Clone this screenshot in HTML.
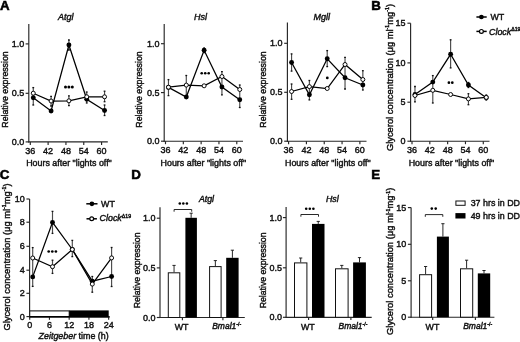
<!DOCTYPE html><html><head><meta charset="utf-8"><style>html,body{margin:0;padding:0;background:#fff;overflow:hidden;}svg{display:block;}#w{will-change:transform;width:520px;height:342px;}text{font-family:"Liberation Sans",sans-serif;fill:#111;stroke:#111;stroke-width:0.42px;}</style></head><body>
<div id="w"><svg width="520" height="342" viewBox="0 0 520 342">
<rect width="520" height="342" fill="#fff"/>
<text x="0.1" y="9.6" font-size="13.3" font-weight="bold" style="fill:#000;stroke:#000;stroke-width:0.55px">A</text>
<text x="371.3" y="9.7" font-size="13.3" font-weight="bold" style="fill:#000;stroke:#000;stroke-width:0.55px">B</text>
<text x="-0.3" y="179.2" font-size="13.3" font-weight="bold" style="fill:#000;stroke:#000;stroke-width:0.55px">C</text>
<text x="131.2" y="179.1" font-size="13.3" font-weight="bold" style="fill:#000;stroke:#000;stroke-width:0.55px">D</text>
<text x="371.2" y="179.1" font-size="13.3" font-weight="bold" style="fill:#000;stroke:#000;stroke-width:0.55px">E</text>
<line x1="28.8" y1="24" x2="28.8" y2="142.4" stroke="#262626" stroke-width="1.15"/>
<line x1="28.3" y1="141.9" x2="107.8" y2="141.9" stroke="#262626" stroke-width="1.15"/>
<line x1="25.6" y1="141.9" x2="28.8" y2="141.9" stroke="#262626" stroke-width="1.15"/>
<text x="24.2" y="145" font-size="9.0" text-anchor="end" style="" >0.0</text>
<line x1="25.6" y1="93.3" x2="28.8" y2="93.3" stroke="#262626" stroke-width="1.15"/>
<text x="24.2" y="96.4" font-size="9.0" text-anchor="end" style="" >0.5</text>
<line x1="25.6" y1="43.9" x2="28.8" y2="43.9" stroke="#262626" stroke-width="1.15"/>
<text x="24.2" y="47" font-size="9.0" text-anchor="end" style="" >1.0</text>
<line x1="30.3" y1="141.9" x2="30.3" y2="144.9" stroke="#262626" stroke-width="1.15"/>
<text x="30.3" y="153.5" font-size="9.0" text-anchor="middle" style="" >36</text>
<line x1="48.12" y1="141.9" x2="48.12" y2="144.9" stroke="#262626" stroke-width="1.15"/>
<text x="48.12" y="153.5" font-size="9.0" text-anchor="middle" style="" >42</text>
<line x1="65.94" y1="141.9" x2="65.94" y2="144.9" stroke="#262626" stroke-width="1.15"/>
<text x="65.94" y="153.5" font-size="9.0" text-anchor="middle" style="" >48</text>
<line x1="83.76" y1="141.9" x2="83.76" y2="144.9" stroke="#262626" stroke-width="1.15"/>
<text x="83.76" y="153.5" font-size="9.0" text-anchor="middle" style="" >54</text>
<line x1="101.58" y1="141.9" x2="101.58" y2="144.9" stroke="#262626" stroke-width="1.15"/>
<text x="101.58" y="153.5" font-size="9.0" text-anchor="middle" style="" >60</text>
<text x="65.8" y="20.4" font-size="9" text-anchor="middle" style="font-style:italic;" >Atgl</text>
<text x="26.2" y="165.6" font-size="8.9">Hours after "lights off"</text>
<text x="0" y="0" font-size="8.9" text-anchor="middle" textLength="76.3" lengthAdjust="spacingAndGlyphs" transform="translate(7.9,89.5) rotate(-90)">Relative expression</text>
<line x1="33.27" y1="87.6" x2="33.27" y2="105" stroke="#4a4a4a" stroke-width="1.15"/>
<line x1="32.37" y1="87.6" x2="34.17" y2="87.6" stroke="#111" stroke-width="1.3"/>
<line x1="32.37" y1="105" x2="34.17" y2="105" stroke="#111" stroke-width="1.3"/>
<line x1="51.09" y1="96.4" x2="51.09" y2="106" stroke="#4a4a4a" stroke-width="1.15"/>
<line x1="50.19" y1="96.4" x2="51.99" y2="96.4" stroke="#111" stroke-width="1.3"/>
<line x1="50.19" y1="106" x2="51.99" y2="106" stroke="#111" stroke-width="1.3"/>
<line x1="68.91" y1="40" x2="68.91" y2="50" stroke="#4a4a4a" stroke-width="1.15"/>
<line x1="68.01" y1="40" x2="69.81" y2="40" stroke="#111" stroke-width="1.3"/>
<line x1="68.01" y1="50" x2="69.81" y2="50" stroke="#111" stroke-width="1.3"/>
<line x1="68.91" y1="95.8" x2="68.91" y2="105.7" stroke="#4a4a4a" stroke-width="1.15"/>
<line x1="68.01" y1="95.8" x2="69.81" y2="95.8" stroke="#111" stroke-width="1.3"/>
<line x1="68.01" y1="105.7" x2="69.81" y2="105.7" stroke="#111" stroke-width="1.3"/>
<line x1="86.73" y1="92" x2="86.73" y2="103" stroke="#4a4a4a" stroke-width="1.15"/>
<line x1="85.83" y1="92" x2="87.63" y2="92" stroke="#111" stroke-width="1.3"/>
<line x1="85.83" y1="103" x2="87.63" y2="103" stroke="#111" stroke-width="1.3"/>
<line x1="104.55" y1="91.2" x2="104.55" y2="101.7" stroke="#4a4a4a" stroke-width="1.15"/>
<line x1="103.65" y1="91.2" x2="105.45" y2="91.2" stroke="#111" stroke-width="1.3"/>
<line x1="103.65" y1="101.7" x2="105.45" y2="101.7" stroke="#111" stroke-width="1.3"/>
<line x1="104.55" y1="105" x2="104.55" y2="115.5" stroke="#4a4a4a" stroke-width="1.15"/>
<line x1="103.65" y1="105" x2="105.45" y2="105" stroke="#111" stroke-width="1.3"/>
<line x1="103.65" y1="115.5" x2="105.45" y2="115.5" stroke="#111" stroke-width="1.3"/>
<polyline points="33.27,97.8 51.09,111 68.91,45 86.73,99.3 104.55,110.5" fill="none" stroke="#000" stroke-width="1.25" stroke-linejoin="miter"/>
<polyline points="33.27,93.2 51.09,101 68.91,100.8 86.73,96.8 104.55,96.8" fill="none" stroke="#000" stroke-width="1.25" stroke-linejoin="miter"/>
<circle cx="33.27" cy="97.8" r="2.45" fill="#000"/>
<circle cx="51.09" cy="111" r="2.45" fill="#000"/>
<circle cx="68.91" cy="45" r="2.45" fill="#000"/>
<circle cx="86.73" cy="99.3" r="2.45" fill="#000"/>
<circle cx="104.55" cy="110.5" r="2.45" fill="#000"/>
<circle cx="33.27" cy="93.2" r="2.0" fill="#fff" stroke="#000" stroke-width="0.95"/>
<circle cx="51.09" cy="101" r="2.0" fill="#fff" stroke="#000" stroke-width="0.95"/>
<circle cx="68.91" cy="100.8" r="2.0" fill="#fff" stroke="#000" stroke-width="0.95"/>
<circle cx="86.73" cy="96.8" r="2.0" fill="#fff" stroke="#000" stroke-width="0.95"/>
<circle cx="104.55" cy="96.8" r="2.0" fill="#fff" stroke="#000" stroke-width="0.95"/>
<circle cx="65.5" cy="87" r="1.5" fill="#000"/>
<circle cx="68.9" cy="87" r="1.5" fill="#000"/>
<circle cx="72.3" cy="87" r="1.5" fill="#000"/>
<line x1="164.2" y1="24.1" x2="164.2" y2="141.7" stroke="#262626" stroke-width="1.15"/>
<line x1="163.7" y1="141.2" x2="243" y2="141.2" stroke="#262626" stroke-width="1.15"/>
<line x1="161" y1="141.2" x2="164.2" y2="141.2" stroke="#262626" stroke-width="1.15"/>
<text x="159.4" y="144.3" font-size="9.0" text-anchor="end" style="" >0.0</text>
<line x1="161" y1="92.6" x2="164.2" y2="92.6" stroke="#262626" stroke-width="1.15"/>
<text x="159.4" y="95.7" font-size="9.0" text-anchor="end" style="" >0.5</text>
<line x1="161" y1="43.7" x2="164.2" y2="43.7" stroke="#262626" stroke-width="1.15"/>
<text x="159.4" y="46.8" font-size="9.0" text-anchor="end" style="" >1.0</text>
<line x1="165.5" y1="141.2" x2="165.5" y2="144.2" stroke="#262626" stroke-width="1.15"/>
<text x="165.5" y="152.8" font-size="9.0" text-anchor="middle" style="" >36</text>
<line x1="183.32" y1="141.2" x2="183.32" y2="144.2" stroke="#262626" stroke-width="1.15"/>
<text x="183.32" y="152.8" font-size="9.0" text-anchor="middle" style="" >42</text>
<line x1="201.14" y1="141.2" x2="201.14" y2="144.2" stroke="#262626" stroke-width="1.15"/>
<text x="201.14" y="152.8" font-size="9.0" text-anchor="middle" style="" >48</text>
<line x1="218.96" y1="141.2" x2="218.96" y2="144.2" stroke="#262626" stroke-width="1.15"/>
<text x="218.96" y="152.8" font-size="9.0" text-anchor="middle" style="" >54</text>
<line x1="236.78" y1="141.2" x2="236.78" y2="144.2" stroke="#262626" stroke-width="1.15"/>
<text x="236.78" y="152.8" font-size="9.0" text-anchor="middle" style="" >60</text>
<text x="200.5" y="20.4" font-size="9" text-anchor="middle" style="font-style:italic;" >Hsl</text>
<text x="160.6" y="165.6" font-size="8.9">Hours after "lights off"</text>
<text x="0" y="0" font-size="8.9" text-anchor="middle" textLength="76.3" lengthAdjust="spacingAndGlyphs" transform="translate(142.2,89.5) rotate(-90)">Relative expression</text>
<line x1="168.47" y1="79.6" x2="168.47" y2="95.6" stroke="#4a4a4a" stroke-width="1.15"/>
<line x1="167.57" y1="79.6" x2="169.37" y2="79.6" stroke="#111" stroke-width="1.3"/>
<line x1="167.57" y1="95.6" x2="169.37" y2="95.6" stroke="#111" stroke-width="1.3"/>
<line x1="186.29" y1="75.5" x2="186.29" y2="96" stroke="#4a4a4a" stroke-width="1.15"/>
<line x1="185.39" y1="75.5" x2="187.19" y2="75.5" stroke="#111" stroke-width="1.3"/>
<line x1="185.39" y1="96" x2="187.19" y2="96" stroke="#111" stroke-width="1.3"/>
<line x1="204.11" y1="48" x2="204.11" y2="52.6" stroke="#4a4a4a" stroke-width="1.15"/>
<line x1="203.21" y1="48" x2="205.01" y2="48" stroke="#111" stroke-width="1.3"/>
<line x1="203.21" y1="52.6" x2="205.01" y2="52.6" stroke="#111" stroke-width="1.3"/>
<line x1="221.93" y1="71.7" x2="221.93" y2="94.8" stroke="#4a4a4a" stroke-width="1.15"/>
<line x1="221.03" y1="71.7" x2="222.83" y2="71.7" stroke="#111" stroke-width="1.3"/>
<line x1="221.03" y1="94.8" x2="222.83" y2="94.8" stroke="#111" stroke-width="1.3"/>
<line x1="239.75" y1="85" x2="239.75" y2="107.5" stroke="#4a4a4a" stroke-width="1.15"/>
<line x1="238.85" y1="85" x2="240.65" y2="85" stroke="#111" stroke-width="1.3"/>
<line x1="238.85" y1="107.5" x2="240.65" y2="107.5" stroke="#111" stroke-width="1.3"/>
<polyline points="168.47,87.4 186.29,97 204.11,50.3 221.93,87 239.75,99.8" fill="none" stroke="#000" stroke-width="1.25" stroke-linejoin="miter"/>
<polyline points="168.47,87.2 186.29,85.1 204.11,85.8 221.93,76.5 239.75,89.5" fill="none" stroke="#000" stroke-width="1.25" stroke-linejoin="miter"/>
<circle cx="168.47" cy="87.4" r="2.45" fill="#000"/>
<circle cx="186.29" cy="97" r="2.45" fill="#000"/>
<circle cx="204.11" cy="50.3" r="2.45" fill="#000"/>
<circle cx="221.93" cy="87" r="2.45" fill="#000"/>
<circle cx="239.75" cy="99.8" r="2.45" fill="#000"/>
<circle cx="168.47" cy="87.2" r="2.0" fill="#fff" stroke="#000" stroke-width="0.95"/>
<circle cx="186.29" cy="85.1" r="2.0" fill="#fff" stroke="#000" stroke-width="0.95"/>
<circle cx="204.11" cy="85.8" r="2.0" fill="#fff" stroke="#000" stroke-width="0.95"/>
<circle cx="221.93" cy="76.5" r="2.0" fill="#fff" stroke="#000" stroke-width="0.95"/>
<circle cx="239.75" cy="89.5" r="2.0" fill="#fff" stroke="#000" stroke-width="0.95"/>
<circle cx="201.7" cy="73.2" r="1.3" fill="#000"/>
<circle cx="205.2" cy="73.2" r="1.3" fill="#000"/>
<circle cx="208.7" cy="73.2" r="1.3" fill="#000"/>
<line x1="287.4" y1="22.6" x2="287.4" y2="141.7" stroke="#262626" stroke-width="1.15"/>
<line x1="286.9" y1="141.2" x2="366.5" y2="141.2" stroke="#262626" stroke-width="1.15"/>
<line x1="284.2" y1="141.2" x2="287.4" y2="141.2" stroke="#262626" stroke-width="1.15"/>
<text x="282.6" y="144.3" font-size="9.0" text-anchor="end" style="" >0.0</text>
<line x1="284.2" y1="92.3" x2="287.4" y2="92.3" stroke="#262626" stroke-width="1.15"/>
<text x="282.6" y="95.4" font-size="9.0" text-anchor="end" style="" >0.5</text>
<line x1="284.2" y1="43.3" x2="287.4" y2="43.3" stroke="#262626" stroke-width="1.15"/>
<text x="282.6" y="46.4" font-size="9.0" text-anchor="end" style="" >1.0</text>
<line x1="288.6" y1="141.2" x2="288.6" y2="144.2" stroke="#262626" stroke-width="1.15"/>
<text x="288.6" y="152.8" font-size="9.0" text-anchor="middle" style="" >36</text>
<line x1="306.42" y1="141.2" x2="306.42" y2="144.2" stroke="#262626" stroke-width="1.15"/>
<text x="306.42" y="152.8" font-size="9.0" text-anchor="middle" style="" >42</text>
<line x1="324.24" y1="141.2" x2="324.24" y2="144.2" stroke="#262626" stroke-width="1.15"/>
<text x="324.24" y="152.8" font-size="9.0" text-anchor="middle" style="" >48</text>
<line x1="342.06" y1="141.2" x2="342.06" y2="144.2" stroke="#262626" stroke-width="1.15"/>
<text x="342.06" y="152.8" font-size="9.0" text-anchor="middle" style="" >54</text>
<line x1="359.88" y1="141.2" x2="359.88" y2="144.2" stroke="#262626" stroke-width="1.15"/>
<text x="359.88" y="152.8" font-size="9.0" text-anchor="middle" style="" >60</text>
<text x="321.8" y="20.4" font-size="9" text-anchor="middle" style="font-style:italic;" >Mgll</text>
<text x="285" y="165.6" font-size="8.9">Hours after "lights off"</text>
<text x="0" y="0" font-size="8.9" text-anchor="middle" textLength="76.3" lengthAdjust="spacingAndGlyphs" transform="translate(266.4,89.5) rotate(-90)">Relative expression</text>
<line x1="291.57" y1="53.9" x2="291.57" y2="71.1" stroke="#4a4a4a" stroke-width="1.15"/>
<line x1="290.67" y1="53.9" x2="292.47" y2="53.9" stroke="#111" stroke-width="1.3"/>
<line x1="290.67" y1="71.1" x2="292.47" y2="71.1" stroke="#111" stroke-width="1.3"/>
<line x1="291.57" y1="84" x2="291.57" y2="99.3" stroke="#4a4a4a" stroke-width="1.15"/>
<line x1="290.67" y1="84" x2="292.47" y2="84" stroke="#111" stroke-width="1.3"/>
<line x1="290.67" y1="99.3" x2="292.47" y2="99.3" stroke="#111" stroke-width="1.3"/>
<line x1="309.39" y1="80.5" x2="309.39" y2="99.9" stroke="#4a4a4a" stroke-width="1.15"/>
<line x1="308.49" y1="80.5" x2="310.29" y2="80.5" stroke="#111" stroke-width="1.3"/>
<line x1="308.49" y1="99.9" x2="310.29" y2="99.9" stroke="#111" stroke-width="1.3"/>
<line x1="327.21" y1="50.6" x2="327.21" y2="66.6" stroke="#4a4a4a" stroke-width="1.15"/>
<line x1="326.31" y1="50.6" x2="328.11" y2="50.6" stroke="#111" stroke-width="1.3"/>
<line x1="326.31" y1="66.6" x2="328.11" y2="66.6" stroke="#111" stroke-width="1.3"/>
<line x1="345.03" y1="57.4" x2="345.03" y2="89" stroke="#4a4a4a" stroke-width="1.15"/>
<line x1="344.13" y1="57.4" x2="345.93" y2="57.4" stroke="#111" stroke-width="1.3"/>
<line x1="344.13" y1="89" x2="345.93" y2="89" stroke="#111" stroke-width="1.3"/>
<line x1="362.85" y1="70.7" x2="362.85" y2="90" stroke="#4a4a4a" stroke-width="1.15"/>
<line x1="361.95" y1="70.7" x2="363.75" y2="70.7" stroke="#111" stroke-width="1.3"/>
<line x1="361.95" y1="90" x2="363.75" y2="90" stroke="#111" stroke-width="1.3"/>
<polyline points="291.57,62.5 309.39,94.8 327.21,58.8 345.03,77.8 362.85,85" fill="none" stroke="#000" stroke-width="1.25" stroke-linejoin="miter"/>
<polyline points="291.57,91.5 309.39,86.6 327.21,88.5 345.03,64.5 362.85,79.5" fill="none" stroke="#000" stroke-width="1.25" stroke-linejoin="miter"/>
<circle cx="291.57" cy="62.5" r="2.45" fill="#000"/>
<circle cx="309.39" cy="94.8" r="2.45" fill="#000"/>
<circle cx="327.21" cy="58.8" r="2.45" fill="#000"/>
<circle cx="345.03" cy="77.8" r="2.45" fill="#000"/>
<circle cx="362.85" cy="85" r="2.45" fill="#000"/>
<circle cx="291.57" cy="91.5" r="2.0" fill="#fff" stroke="#000" stroke-width="0.95"/>
<circle cx="309.39" cy="86.6" r="2.0" fill="#fff" stroke="#000" stroke-width="0.95"/>
<circle cx="327.21" cy="88.5" r="2.0" fill="#fff" stroke="#000" stroke-width="0.95"/>
<circle cx="345.03" cy="64.5" r="2.0" fill="#fff" stroke="#000" stroke-width="0.95"/>
<circle cx="362.85" cy="79.5" r="2.0" fill="#fff" stroke="#000" stroke-width="0.95"/>
<circle cx="327.3" cy="77.9" r="1.4" fill="#000"/>
<line x1="410.6" y1="23.2" x2="410.6" y2="141.7" stroke="#262626" stroke-width="1.15"/>
<line x1="410.1" y1="141.2" x2="489.5" y2="141.2" stroke="#262626" stroke-width="1.15"/>
<line x1="407.4" y1="141.2" x2="410.6" y2="141.2" stroke="#262626" stroke-width="1.15"/>
<text x="405.6" y="144.3" font-size="9.0" text-anchor="end" style="" >0</text>
<line x1="407.4" y1="102.2" x2="410.6" y2="102.2" stroke="#262626" stroke-width="1.15"/>
<text x="405.6" y="105.3" font-size="9.0" text-anchor="end" style="" >5</text>
<line x1="407.4" y1="62.9" x2="410.6" y2="62.9" stroke="#262626" stroke-width="1.15"/>
<text x="405.6" y="66" font-size="9.0" text-anchor="end" style="" >10</text>
<line x1="407.4" y1="23.2" x2="410.6" y2="23.2" stroke="#262626" stroke-width="1.15"/>
<text x="405.6" y="26.3" font-size="9.0" text-anchor="end" style="" >15</text>
<line x1="412" y1="141.2" x2="412" y2="144.2" stroke="#262626" stroke-width="1.15"/>
<text x="412" y="152.8" font-size="9.0" text-anchor="middle" style="" >36</text>
<line x1="429.82" y1="141.2" x2="429.82" y2="144.2" stroke="#262626" stroke-width="1.15"/>
<text x="429.82" y="152.8" font-size="9.0" text-anchor="middle" style="" >42</text>
<line x1="447.64" y1="141.2" x2="447.64" y2="144.2" stroke="#262626" stroke-width="1.15"/>
<text x="447.64" y="152.8" font-size="9.0" text-anchor="middle" style="" >48</text>
<line x1="465.46" y1="141.2" x2="465.46" y2="144.2" stroke="#262626" stroke-width="1.15"/>
<text x="465.46" y="152.8" font-size="9.0" text-anchor="middle" style="" >54</text>
<line x1="483.28" y1="141.2" x2="483.28" y2="144.2" stroke="#262626" stroke-width="1.15"/>
<text x="483.28" y="152.8" font-size="9.0" text-anchor="middle" style="" >60</text>
<text x="408.7" y="165.6" font-size="8.9">Hours after "lights off"</text>
<text x="0" y="0" font-size="9.2" text-anchor="middle" textLength="147.2" lengthAdjust="spacingAndGlyphs" transform="translate(392.6,77.5) rotate(-90)">Glycerol concentration (μg ml<tspan font-size="5.2" dy="-3.4">-1</tspan><tspan dy="3.4">mg</tspan><tspan font-size="5.2" dy="-3.4">-1</tspan><tspan dy="3.4">)</tspan></text>
<line x1="414.97" y1="86.5" x2="414.97" y2="101.9" stroke="#4a4a4a" stroke-width="1.15"/>
<line x1="414.07" y1="86.5" x2="415.87" y2="86.5" stroke="#111" stroke-width="1.3"/>
<line x1="414.07" y1="101.9" x2="415.87" y2="101.9" stroke="#111" stroke-width="1.3"/>
<line x1="432.79" y1="75.6" x2="432.79" y2="103" stroke="#4a4a4a" stroke-width="1.15"/>
<line x1="431.89" y1="75.6" x2="433.69" y2="75.6" stroke="#111" stroke-width="1.3"/>
<line x1="431.89" y1="103" x2="433.69" y2="103" stroke="#111" stroke-width="1.3"/>
<line x1="450.61" y1="39.8" x2="450.61" y2="67.9" stroke="#4a4a4a" stroke-width="1.15"/>
<line x1="449.71" y1="39.8" x2="451.51" y2="39.8" stroke="#111" stroke-width="1.3"/>
<line x1="449.71" y1="67.9" x2="451.51" y2="67.9" stroke="#111" stroke-width="1.3"/>
<line x1="468.43" y1="82.5" x2="468.43" y2="87.5" stroke="#4a4a4a" stroke-width="1.15"/>
<line x1="467.53" y1="82.5" x2="469.33" y2="82.5" stroke="#111" stroke-width="1.3"/>
<line x1="467.53" y1="87.5" x2="469.33" y2="87.5" stroke="#111" stroke-width="1.3"/>
<line x1="468.43" y1="93.7" x2="468.43" y2="104.7" stroke="#4a4a4a" stroke-width="1.15"/>
<line x1="467.53" y1="93.7" x2="469.33" y2="93.7" stroke="#111" stroke-width="1.3"/>
<line x1="467.53" y1="104.7" x2="469.33" y2="104.7" stroke="#111" stroke-width="1.3"/>
<line x1="486.25" y1="95" x2="486.25" y2="100" stroke="#4a4a4a" stroke-width="1.15"/>
<line x1="485.35" y1="95" x2="487.15" y2="95" stroke="#111" stroke-width="1.3"/>
<line x1="485.35" y1="100" x2="487.15" y2="100" stroke="#111" stroke-width="1.3"/>
<polyline points="414.97,94.5 432.79,82.1 450.61,54.3 468.43,85 486.25,97.7" fill="none" stroke="#000" stroke-width="1.25" stroke-linejoin="miter"/>
<polyline points="414.97,95.5 432.79,90.3 450.61,94.5 468.43,98.9 486.25,97.4" fill="none" stroke="#000" stroke-width="1.25" stroke-linejoin="miter"/>
<circle cx="414.97" cy="94.5" r="2.45" fill="#000"/>
<circle cx="432.79" cy="82.1" r="2.45" fill="#000"/>
<circle cx="450.61" cy="54.3" r="2.45" fill="#000"/>
<circle cx="468.43" cy="85" r="2.45" fill="#000"/>
<circle cx="486.25" cy="97.7" r="2.45" fill="#000"/>
<circle cx="414.97" cy="95.5" r="2.0" fill="#fff" stroke="#000" stroke-width="0.95"/>
<circle cx="432.79" cy="90.3" r="2.0" fill="#fff" stroke="#000" stroke-width="0.95"/>
<circle cx="450.61" cy="94.5" r="2.0" fill="#fff" stroke="#000" stroke-width="0.95"/>
<circle cx="468.43" cy="98.9" r="2.0" fill="#fff" stroke="#000" stroke-width="0.95"/>
<circle cx="486.25" cy="97.4" r="2.0" fill="#fff" stroke="#000" stroke-width="0.95"/>
<circle cx="448.9" cy="82.7" r="1.35" fill="#000"/>
<circle cx="452.3" cy="82.7" r="1.35" fill="#000"/>
<line x1="476.4" y1="17" x2="486.7" y2="17" stroke="#000" stroke-width="1.5"/>
<circle cx="481.4" cy="17" r="2.35" fill="#000"/>
<text x="490.4" y="19.9" font-size="8.9" text-anchor="start" style="" >WT</text>
<line x1="476.4" y1="31.4" x2="486.7" y2="31.4" stroke="#000" stroke-width="1.5"/>
<circle cx="481.4" cy="31.4" r="1.9" fill="#fff" stroke="#000" stroke-width="1.2"/>
<text x="489" y="34.6" font-size="8.9"><tspan font-style="italic">Clock</tspan><tspan font-size="5.2" dy="-3.3">Δ19</tspan></text>
<rect x="29.6" y="310.9" width="39.6" height="5.7" fill="#fff" stroke="#000" stroke-width="1"/>
<rect x="69.2" y="310.4" width="39.5" height="6.6" fill="#000"/>
<line x1="29.6" y1="199" x2="29.6" y2="317.3" stroke="#262626" stroke-width="1.15"/>
<line x1="29.1" y1="316.8" x2="110" y2="316.8" stroke="#262626" stroke-width="1.15"/>
<line x1="26.4" y1="316.6" x2="29.6" y2="316.6" stroke="#262626" stroke-width="1.15"/>
<text x="24.8" y="319.7" font-size="9.0" text-anchor="end" style="" >0</text>
<line x1="26.4" y1="293.3" x2="29.6" y2="293.3" stroke="#262626" stroke-width="1.15"/>
<text x="24.8" y="296.4" font-size="9.0" text-anchor="end" style="" >2</text>
<line x1="26.4" y1="270.2" x2="29.6" y2="270.2" stroke="#262626" stroke-width="1.15"/>
<text x="24.8" y="273.3" font-size="9.0" text-anchor="end" style="" >4</text>
<line x1="26.4" y1="246.3" x2="29.6" y2="246.3" stroke="#262626" stroke-width="1.15"/>
<text x="24.8" y="249.4" font-size="9.0" text-anchor="end" style="" >6</text>
<line x1="26.4" y1="222.2" x2="29.6" y2="222.2" stroke="#262626" stroke-width="1.15"/>
<text x="24.8" y="225.3" font-size="9.0" text-anchor="end" style="" >8</text>
<line x1="26.4" y1="199" x2="29.6" y2="199" stroke="#262626" stroke-width="1.15"/>
<text x="24.8" y="202.1" font-size="9.0" text-anchor="end" style="" >10</text>
<line x1="29.7" y1="316.8" x2="29.7" y2="319.8" stroke="#262626" stroke-width="1.15"/>
<text x="29.7" y="328.4" font-size="9.0" text-anchor="middle" style="" >0</text>
<line x1="49.44" y1="316.8" x2="49.44" y2="319.8" stroke="#262626" stroke-width="1.15"/>
<text x="49.44" y="328.4" font-size="9.0" text-anchor="middle" style="" >6</text>
<line x1="69.18" y1="316.8" x2="69.18" y2="319.8" stroke="#262626" stroke-width="1.15"/>
<text x="69.18" y="328.4" font-size="9.0" text-anchor="middle" style="" >12</text>
<line x1="88.92" y1="316.8" x2="88.92" y2="319.8" stroke="#262626" stroke-width="1.15"/>
<text x="88.92" y="328.4" font-size="9.0" text-anchor="middle" style="" >18</text>
<line x1="108.66" y1="316.8" x2="108.66" y2="319.8" stroke="#262626" stroke-width="1.15"/>
<text x="108.66" y="328.4" font-size="9.0" text-anchor="middle" style="" >24</text>
<text x="38.6" y="339.4" font-size="8.9"><tspan font-style="italic">Zeitgeber</tspan> time (h)</text>
<text x="0" y="0" font-size="9.2" text-anchor="middle" textLength="147.2" lengthAdjust="spacingAndGlyphs" transform="translate(9.6,257) rotate(-90)">Glycerol concentration (μg ml<tspan font-size="5.2" dy="-3.4">-1</tspan><tspan dy="3.4">mg</tspan><tspan font-size="5.2" dy="-3.4">-1</tspan><tspan dy="3.4">)</tspan></text>
<line x1="32.7" y1="247.6" x2="32.7" y2="286.4" stroke="#4a4a4a" stroke-width="1.15"/>
<line x1="31.8" y1="247.6" x2="33.6" y2="247.6" stroke="#111" stroke-width="1.3"/>
<line x1="31.8" y1="286.4" x2="33.6" y2="286.4" stroke="#111" stroke-width="1.3"/>
<line x1="52.5" y1="211.4" x2="52.5" y2="233.4" stroke="#4a4a4a" stroke-width="1.15"/>
<line x1="51.6" y1="211.4" x2="53.4" y2="211.4" stroke="#111" stroke-width="1.3"/>
<line x1="51.6" y1="233.4" x2="53.4" y2="233.4" stroke="#111" stroke-width="1.3"/>
<line x1="52.5" y1="260.2" x2="52.5" y2="273.4" stroke="#4a4a4a" stroke-width="1.15"/>
<line x1="51.6" y1="260.2" x2="53.4" y2="260.2" stroke="#111" stroke-width="1.3"/>
<line x1="51.6" y1="273.4" x2="53.4" y2="273.4" stroke="#111" stroke-width="1.3"/>
<line x1="72.3" y1="240.4" x2="72.3" y2="256.6" stroke="#4a4a4a" stroke-width="1.15"/>
<line x1="71.4" y1="240.4" x2="73.2" y2="240.4" stroke="#111" stroke-width="1.3"/>
<line x1="71.4" y1="256.6" x2="73.2" y2="256.6" stroke="#111" stroke-width="1.3"/>
<line x1="92.3" y1="276.5" x2="92.3" y2="292.2" stroke="#4a4a4a" stroke-width="1.15"/>
<line x1="91.4" y1="276.5" x2="93.2" y2="276.5" stroke="#111" stroke-width="1.3"/>
<line x1="91.4" y1="292.2" x2="93.2" y2="292.2" stroke="#111" stroke-width="1.3"/>
<line x1="111.6" y1="247.5" x2="111.6" y2="286.5" stroke="#4a4a4a" stroke-width="1.15"/>
<line x1="110.7" y1="247.5" x2="112.5" y2="247.5" stroke="#111" stroke-width="1.3"/>
<line x1="110.7" y1="286.5" x2="112.5" y2="286.5" stroke="#111" stroke-width="1.3"/>
<polyline points="32.7,276.9 52.5,222.4 72.3,249.5 92.3,281.2 111.6,276.5" fill="none" stroke="#000" stroke-width="1.25" stroke-linejoin="miter"/>
<polyline points="32.7,258 52.5,266.7 72.3,249.5 92.3,284.1 111.6,257.9" fill="none" stroke="#000" stroke-width="1.25" stroke-linejoin="miter"/>
<circle cx="32.7" cy="276.9" r="2.45" fill="#000"/>
<circle cx="52.5" cy="222.4" r="2.45" fill="#000"/>
<circle cx="72.3" cy="249.5" r="2.45" fill="#000"/>
<circle cx="92.3" cy="281.2" r="2.45" fill="#000"/>
<circle cx="111.6" cy="276.5" r="2.45" fill="#000"/>
<circle cx="32.7" cy="258" r="2.0" fill="#fff" stroke="#000" stroke-width="0.95"/>
<circle cx="52.5" cy="266.7" r="2.0" fill="#fff" stroke="#000" stroke-width="0.95"/>
<circle cx="72.3" cy="249.5" r="2.0" fill="#fff" stroke="#000" stroke-width="0.95"/>
<circle cx="92.3" cy="284.1" r="2.0" fill="#fff" stroke="#000" stroke-width="0.95"/>
<circle cx="111.6" cy="257.9" r="2.0" fill="#fff" stroke="#000" stroke-width="0.95"/>
<circle cx="48.7" cy="251.5" r="1.35" fill="#000"/>
<circle cx="52.3" cy="251.5" r="1.35" fill="#000"/>
<circle cx="55.9" cy="251.5" r="1.35" fill="#000"/>
<line x1="29.6" y1="316.8" x2="108.7" y2="316.8" stroke="#000" stroke-width="1.6"/>
<line x1="86.3" y1="203.8" x2="97.5" y2="203.8" stroke="#000" stroke-width="1.5"/>
<circle cx="91.9" cy="203.8" r="2.35" fill="#000"/>
<text x="101.1" y="206.9" font-size="8.9" text-anchor="start" style="" >WT</text>
<line x1="86.5" y1="218.8" x2="96.9" y2="218.8" stroke="#000" stroke-width="1.5"/>
<circle cx="91.7" cy="218.8" r="1.9" fill="#fff" stroke="#000" stroke-width="1.2"/>
<text x="99.6" y="221.2" font-size="8.9"><tspan font-style="italic">Clock</tspan><tspan font-size="5.2" dy="-3.3">Δ19</tspan></text>
<line x1="160" y1="207.3" x2="160" y2="318" stroke="#262626" stroke-width="1.15"/>
<line x1="159.5" y1="317.5" x2="244.8" y2="317.5" stroke="#262626" stroke-width="1.15"/>
<line x1="156.8" y1="317.5" x2="160" y2="317.5" stroke="#262626" stroke-width="1.15"/>
<text x="155.6" y="320.6" font-size="9.0" text-anchor="end" style="" >0.0</text>
<line x1="156.8" y1="267.9" x2="160" y2="267.9" stroke="#262626" stroke-width="1.15"/>
<text x="155.6" y="271" font-size="9.0" text-anchor="end" style="" >0.5</text>
<line x1="156.8" y1="218.2" x2="160" y2="218.2" stroke="#262626" stroke-width="1.15"/>
<text x="155.6" y="221.3" font-size="9.0" text-anchor="end" style="" >1.0</text>
<line x1="182.4" y1="317.5" x2="182.4" y2="320.3" stroke="#262626" stroke-width="1.15"/>
<line x1="222.9" y1="317.5" x2="222.9" y2="320.3" stroke="#262626" stroke-width="1.15"/>
<line x1="174.05" y1="272.3" x2="174.05" y2="265.4" stroke="#111" stroke-width="0.9"/>
<line x1="172.45" y1="265.4" x2="175.65" y2="265.4" stroke="#111" stroke-width="0.9"/>
<rect x="168.3" y="272.8" width="11.5" height="44.7" fill="#fff" stroke="#111" stroke-width="1"/>
<line x1="191.15" y1="217.8" x2="191.15" y2="213.2" stroke="#111" stroke-width="0.9"/>
<line x1="189.55" y1="213.2" x2="192.75" y2="213.2" stroke="#111" stroke-width="0.9"/>
<rect x="185.4" y="217.8" width="11.5" height="99.7" fill="#000"/>
<line x1="215.35" y1="266.1" x2="215.35" y2="260.6" stroke="#111" stroke-width="0.9"/>
<line x1="213.75" y1="260.6" x2="216.95" y2="260.6" stroke="#111" stroke-width="0.9"/>
<rect x="209.6" y="266.6" width="11.5" height="50.9" fill="#fff" stroke="#111" stroke-width="1"/>
<line x1="232.4" y1="257.8" x2="232.4" y2="250.2" stroke="#111" stroke-width="0.9"/>
<line x1="230.8" y1="250.2" x2="234" y2="250.2" stroke="#111" stroke-width="0.9"/>
<rect x="226.2" y="257.8" width="12.4" height="59.7" fill="#000"/>
<polyline points="174.1,211.7 174.1,209.5 191.7,209.5 191.7,211.7" fill="none" stroke="#111" stroke-width="0.9"/>
<circle cx="179.8" cy="203.5" r="1.3" fill="#000"/>
<circle cx="183.3" cy="203.5" r="1.3" fill="#000"/>
<circle cx="186.9" cy="203.5" r="1.3" fill="#000"/>
<text x="206.5" y="201.9" font-size="8.8" text-anchor="middle" style="font-style:italic;" >Atgl</text>
<text x="181.6" y="329.8" font-size="8.9" text-anchor="middle" style="" >WT</text>
<text x="212.2" y="329.2" font-size="8.5"><tspan font-style="italic">Bmal1</tspan><tspan font-size="5.2" dy="-3.2">-/-</tspan></text>
<text x="0" y="0" font-size="8.9" text-anchor="middle" textLength="75.8" lengthAdjust="spacingAndGlyphs" transform="translate(140.3,270.4) rotate(-90)">Relative expression</text>
<line x1="286.1" y1="207" x2="286.1" y2="317.8" stroke="#262626" stroke-width="1.15"/>
<line x1="285.6" y1="317.3" x2="371.7" y2="317.3" stroke="#262626" stroke-width="1.15"/>
<line x1="282.9" y1="317.3" x2="286.1" y2="317.3" stroke="#262626" stroke-width="1.15"/>
<text x="282" y="320.4" font-size="9.0" text-anchor="end" style="" >0.0</text>
<line x1="282.9" y1="267.8" x2="286.1" y2="267.8" stroke="#262626" stroke-width="1.15"/>
<text x="282" y="270.9" font-size="9.0" text-anchor="end" style="" >0.5</text>
<line x1="282.9" y1="217.6" x2="286.1" y2="217.6" stroke="#262626" stroke-width="1.15"/>
<text x="282" y="220.7" font-size="9.0" text-anchor="end" style="" >1.0</text>
<line x1="308.6" y1="317.3" x2="308.6" y2="320.1" stroke="#262626" stroke-width="1.15"/>
<line x1="350.9" y1="317.3" x2="350.9" y2="320.1" stroke="#262626" stroke-width="1.15"/>
<line x1="300.7" y1="262.4" x2="300.7" y2="258" stroke="#111" stroke-width="0.9"/>
<line x1="299.1" y1="258" x2="302.3" y2="258" stroke="#111" stroke-width="0.9"/>
<rect x="294.5" y="262.9" width="12.4" height="54.4" fill="#fff" stroke="#111" stroke-width="1"/>
<line x1="318.25" y1="223.9" x2="318.25" y2="221.4" stroke="#111" stroke-width="0.9"/>
<line x1="316.65" y1="221.4" x2="319.85" y2="221.4" stroke="#111" stroke-width="0.9"/>
<rect x="312" y="223.9" width="12.5" height="93.4" fill="#000"/>
<line x1="341.8" y1="268.3" x2="341.8" y2="265.4" stroke="#111" stroke-width="0.9"/>
<line x1="340.2" y1="265.4" x2="343.4" y2="265.4" stroke="#111" stroke-width="0.9"/>
<rect x="335.5" y="268.8" width="12.6" height="48.5" fill="#fff" stroke="#111" stroke-width="1"/>
<line x1="359.5" y1="262.4" x2="359.5" y2="257.6" stroke="#111" stroke-width="0.9"/>
<line x1="357.9" y1="257.6" x2="361.1" y2="257.6" stroke="#111" stroke-width="0.9"/>
<rect x="353.1" y="262.4" width="12.8" height="54.9" fill="#000"/>
<polyline points="300.9,216.7 300.9,214.5 318.5,214.5 318.5,216.7" fill="none" stroke="#111" stroke-width="0.9"/>
<circle cx="306.2" cy="208.7" r="1.3" fill="#000"/>
<circle cx="309.8" cy="208.7" r="1.3" fill="#000"/>
<circle cx="313.4" cy="208.7" r="1.3" fill="#000"/>
<text x="332.3" y="201.5" font-size="8.8" text-anchor="middle" style="font-style:italic;" >Hsl</text>
<text x="307.8" y="329.6" font-size="8.9" text-anchor="middle" style="" >WT</text>
<text x="338.5" y="329" font-size="8.5"><tspan font-style="italic">Bmal1</tspan><tspan font-size="5.2" dy="-3.2">-/-</tspan></text>
<text x="0" y="0" font-size="8.9" text-anchor="middle" textLength="75.8" lengthAdjust="spacingAndGlyphs" transform="translate(266.4,270.4) rotate(-90)">Relative expression</text>
<line x1="411.1" y1="207.6" x2="411.1" y2="317.7" stroke="#262626" stroke-width="1.15"/>
<line x1="410.6" y1="317.2" x2="494.4" y2="317.2" stroke="#262626" stroke-width="1.15"/>
<line x1="407.9" y1="317.2" x2="411.1" y2="317.2" stroke="#262626" stroke-width="1.15"/>
<text x="406.2" y="320.3" font-size="9.0" text-anchor="end" style="" >0</text>
<line x1="407.9" y1="280.8" x2="411.1" y2="280.8" stroke="#262626" stroke-width="1.15"/>
<text x="406.2" y="283.9" font-size="9.0" text-anchor="end" style="" >5</text>
<line x1="407.9" y1="244.3" x2="411.1" y2="244.3" stroke="#262626" stroke-width="1.15"/>
<text x="406.2" y="247.4" font-size="9.0" text-anchor="end" style="" >10</text>
<line x1="407.9" y1="207.6" x2="411.1" y2="207.6" stroke="#262626" stroke-width="1.15"/>
<text x="406.2" y="210.7" font-size="9.0" text-anchor="end" style="" >15</text>
<line x1="432.7" y1="317.2" x2="432.7" y2="320" stroke="#262626" stroke-width="1.15"/>
<line x1="475.4" y1="317.2" x2="475.4" y2="320" stroke="#262626" stroke-width="1.15"/>
<line x1="425.6" y1="274.2" x2="425.6" y2="266.5" stroke="#111" stroke-width="0.9"/>
<line x1="424" y1="266.5" x2="427.2" y2="266.5" stroke="#111" stroke-width="0.9"/>
<rect x="419.6" y="274.7" width="12" height="42.5" fill="#fff" stroke="#111" stroke-width="1"/>
<line x1="442.9" y1="236.6" x2="442.9" y2="223.7" stroke="#111" stroke-width="0.9"/>
<line x1="441.3" y1="223.7" x2="444.5" y2="223.7" stroke="#111" stroke-width="0.9"/>
<rect x="436.9" y="236.6" width="12" height="80.6" fill="#000"/>
<line x1="466.6" y1="268.3" x2="466.6" y2="260.2" stroke="#111" stroke-width="0.9"/>
<line x1="465" y1="260.2" x2="468.2" y2="260.2" stroke="#111" stroke-width="0.9"/>
<rect x="460.5" y="268.8" width="12.2" height="48.4" fill="#fff" stroke="#111" stroke-width="1"/>
<line x1="484" y1="273.4" x2="484" y2="270.5" stroke="#111" stroke-width="0.9"/>
<line x1="482.4" y1="270.5" x2="485.6" y2="270.5" stroke="#111" stroke-width="0.9"/>
<rect x="477.8" y="273.4" width="12.4" height="43.8" fill="#000"/>
<polyline points="425.3,216.8 425.3,214.6 442.8,214.6 442.8,216.8" fill="none" stroke="#111" stroke-width="0.9"/>
<circle cx="431.8" cy="208.6" r="1.3" fill="#000"/>
<circle cx="435.7" cy="208.6" r="1.3" fill="#000"/>
<text x="432.5" y="329.5" font-size="8.9" text-anchor="middle" style="" >WT</text>
<text x="463.2" y="328.9" font-size="8.5"><tspan font-style="italic">Bmal1</tspan><tspan font-size="5.2" dy="-3.2">-/-</tspan></text>
<text x="0" y="0" font-size="9.2" text-anchor="middle" textLength="147.2" lengthAdjust="spacingAndGlyphs" transform="translate(393.4,261.3) rotate(-90)">Glycerol concentration (μg ml<tspan font-size="5.2" dy="-3.4">-1</tspan><tspan dy="3.4">mg</tspan><tspan font-size="5.2" dy="-3.4">-1</tspan><tspan dy="3.4">)</tspan></text>
<rect x="455.9" y="201" width="9.2" height="4.3" fill="#fff" stroke="#111" stroke-width="1"/>
<rect x="455.4" y="213.1" width="10.1" height="5.4" fill="#000"/>
<text x="470.7" y="205.9" font-size="8.9" text-anchor="start" style="" >37 hrs in DD</text>
<text x="470.7" y="218.9" font-size="8.9" text-anchor="start" style="" >49 hrs in DD</text>
</svg></div></body></html>
